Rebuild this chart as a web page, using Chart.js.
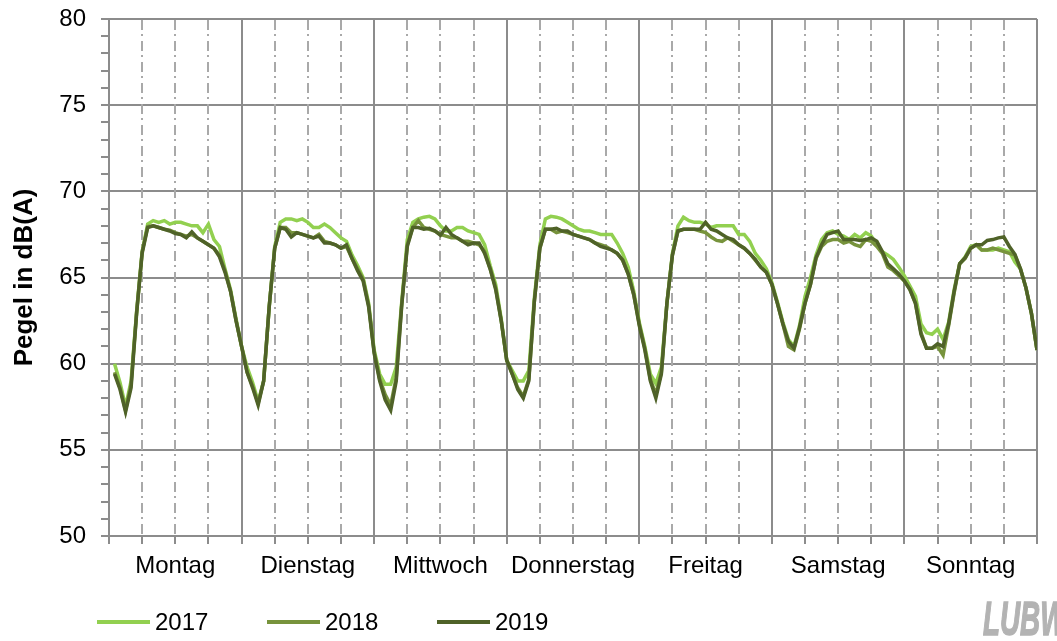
<!DOCTYPE html>
<html>
<head>
<meta charset="utf-8">
<script src="https://cdn.jsdelivr.net/npm/chart.js@4"></script>
<style>
  html, body { margin: 0; padding: 0; background: #fff; overflow: hidden; }
  #wrap { position: relative; width: 1057px; height: 641px; overflow: hidden; font-family: "Liberation Sans", Arial, sans-serif; }
  .leg { position: absolute; top: 609px; height: 26px; display: flex; align-items: center; font-size: 24px; color: #000; }
  .leg span.ln { display: inline-block; width: 53px; height: 4px; margin-right: 5px; }
  #logo { position: absolute; left: 983px; top: 591px; font-size: 48px; line-height: 55px; font-weight: bold; font-style: italic;
          color: #b3b3b3; -webkit-text-stroke: 1.5px #b3b3b3; font-family: "Liberation Sans", sans-serif;
          transform: scaleX(0.58); transform-origin: left top; }
</style>
</head>
<body>
<div id="wrap">
  <canvas id="chart" width="1057" height="641"></canvas>
  <div class="leg" style="left:97px"><span class="ln" style="background:#92d050"></span>2017</div>
  <div class="leg" style="left:267px"><span class="ln" style="background:#77933c"></span>2018</div>
  <div class="leg" style="left:437px"><span class="ln" style="background:#4f6228"></span>2019</div>
  <div id="logo">LUBW</div>
</div>
<script>
const days = ["Montag", "Dienstag", "Mittwoch", "Donnerstag", "Freitag", "Samstag", "Sonntag"];
const years = ["2017", "2018", "2019"];
const colors = ["#92d050", "#77933c", "#4f6228"];

// Stundenmittel, je Tag 24 Werte (Stunde 1..24)
const pegel2017 = [
  60.0, 58.9, 57.5, 59.0, 63.0, 66.5, 68.1, 68.3, 68.2, 68.3, 68.1, 68.2, 68.2, 68.1, 68.0, 68.0, 67.6, 68.1, 67.2, 66.8, 65.5, 64.3, 62.6, 61.0,
  59.8, 58.9, 57.8, 59.0, 63.3, 66.8, 68.2, 68.4, 68.4, 68.3, 68.4, 68.2, 67.9, 67.9, 68.1, 67.9, 67.6, 67.3, 67.1, 66.3, 65.7, 65.0, 63.5, 60.8,
  59.4, 58.8, 58.8, 59.8, 63.6, 67.2, 68.2, 68.4, 68.5, 68.55, 68.4, 68.0, 67.7, 67.7, 67.9, 67.9, 67.7, 67.6, 67.5, 66.9, 65.7, 64.6, 62.6, 60.2,
  59.6, 59.0, 59.0, 59.6, 63.8, 66.9, 68.4, 68.55, 68.5, 68.4, 68.2, 68.0, 67.8, 67.7, 67.7, 67.6, 67.5, 67.5, 67.5, 67.0, 66.4, 65.6, 64.2, 62.4,
  61.0, 59.4, 58.85, 59.8, 63.5, 66.4, 68.0, 68.5, 68.3, 68.2, 68.2, 68.1, 67.9, 68.0, 68.0, 68.0, 68.0, 67.5, 67.5, 67.1, 66.4, 66.0, 65.5, 64.7,
  63.6, 62.4, 61.4, 61.0, 62.2, 63.9, 65.0, 66.3, 67.2, 67.6, 67.7, 67.5, 67.4, 67.2, 67.5, 67.3, 67.6, 67.4, 66.9, 66.5, 66.3, 66.05, 65.6, 65.1,
  64.5, 63.9, 62.3, 61.8, 61.7, 62.0, 61.4, 62.4, 64.3, 65.8, 66.2, 66.8, 66.9, 66.6, 66.6, 66.6, 66.7, 66.6, 66.5, 65.9, 65.5, 64.4, 62.9, 60.8
];
const pegel2018 = [
  59.5, 58.6, 57.3, 58.8, 63.0, 66.5, 67.95, 68.0, 67.9, 67.8, 67.75, 67.6, 67.5, 67.4, 67.5, 67.3, 67.1, 66.9, 66.7, 66.3, 65.4, 64.2, 62.5, 61.0,
  59.5, 58.7, 57.7, 59.0, 63.3, 66.7, 67.9, 67.9, 67.6, 67.6, 67.5, 67.4, 67.3, 67.5, 67.1, 67.0, 66.9, 66.7, 66.8, 66.1, 65.5, 64.9, 63.4, 60.7,
  59.1, 58.2, 57.6, 59.2, 63.5, 66.9, 67.9, 68.3, 67.9, 67.8, 67.7, 67.5, 67.4, 67.3, 67.3, 67.1, 67.1, 67.0, 66.9, 66.5, 65.5, 64.4, 62.5, 60.2,
  59.4, 58.6, 58.1, 59.1, 63.6, 66.7, 67.8, 67.8, 67.6, 67.7, 67.6, 67.5, 67.4, 67.3, 67.2, 67.0, 66.9, 66.8, 66.6, 66.4, 66.0, 65.2, 64.0, 62.3,
  60.9, 59.1, 58.2, 59.5, 63.5, 66.3, 67.7, 67.8, 67.8, 67.8, 67.7, 67.6, 67.35, 67.15, 67.1, 67.3, 67.1, 66.9, 66.7, 66.4, 66.0, 65.6, 65.3, 64.6,
  63.5, 62.3, 61.0, 60.8, 62.0, 63.5, 64.6, 66.1, 66.8, 67.1, 67.2, 67.2, 67.0, 67.1, 66.9, 66.8, 67.2, 67.1, 66.8, 66.4, 65.6, 65.4, 65.1, 64.8,
  64.3, 63.5, 61.8, 60.9, 60.9, 61.0, 60.5, 62.2, 64.1, 65.8, 66.1, 66.7, 66.9, 66.6, 66.6, 66.7, 66.6, 66.5, 66.4, 66.3, 65.5, 64.4, 62.9, 60.8
];
const pegel2019 = [
  59.4, 58.5, 57.2, 58.6, 62.9, 66.4, 67.9, 68.0, 67.9, 67.8, 67.7, 67.55, 67.5, 67.3, 67.65, 67.3, 67.1, 66.9, 66.7, 66.2, 65.3, 64.2, 62.5, 61.0,
  59.5, 58.6, 57.6, 59.0, 63.3, 66.7, 67.9, 67.8, 67.35, 67.6, 67.5, 67.4, 67.3, 67.4, 67.0, 67.0, 66.9, 66.7, 66.9, 66.1, 65.4, 64.8, 63.3, 60.6,
  59.0, 57.9, 57.3, 59.0, 63.4, 66.8, 67.9, 67.9, 67.8, 67.85, 67.7, 67.45, 67.9, 67.5, 67.3, 67.1, 66.9, 67.0, 67.0, 66.4, 65.5, 64.3, 62.5, 60.2,
  59.4, 58.5, 58.0, 59.0, 63.6, 66.7, 67.8, 67.8, 67.85, 67.7, 67.7, 67.5, 67.4, 67.3, 67.2, 67.0, 66.8, 66.7, 66.6, 66.4, 66.0, 65.2, 64.0, 62.2,
  60.8, 59.0, 58.0, 59.4, 63.5, 66.3, 67.7, 67.8, 67.8, 67.8, 67.8, 68.2, 67.8, 67.7, 67.5, 67.3, 67.2, 66.9, 66.7, 66.4, 66.05, 65.6, 65.3, 64.6,
  63.5, 62.3, 61.3, 60.9, 62.1, 63.5, 64.6, 66.15, 66.9, 67.5, 67.6, 67.7, 67.2, 67.2, 67.2, 67.15, 67.2, 67.3, 67.1, 66.5, 65.8, 65.5, 65.2, 64.8,
  64.3, 63.5, 61.7, 60.9, 60.9, 61.15, 61.0, 62.3, 64.2, 65.8, 66.15, 66.7, 66.9, 66.9, 67.15, 67.2, 67.3, 67.35, 66.8, 66.35, 65.5, 64.4, 62.9, 60.8
];

const gridGray = "#8c8c8c";

function toPoints(values) {
  return values.map((v, i) => ({ x: i + 1, y: v }));
}

// gestrichelte 6-Stunden-Linien
const dashedGrid = {
  id: "dashedGrid",
  beforeDatasetsDraw(chart) {
    const { ctx, chartArea, scales } = chart;
    ctx.save();
    ctx.strokeStyle = "#a9a9a9";
    ctx.lineWidth = 2;
    ctx.setLineDash([10, 4, 2, 5]);
    for (let h = 6; h < 168; h += 6) {
      if (h % 24 === 0) continue;
      const x = Math.round(scales.x.getPixelForValue(h));
      ctx.beginPath();
      ctx.moveTo(x, chartArea.top + 1);
      ctx.lineTo(x, chartArea.bottom - 1);
      ctx.stroke();
    }
    ctx.restore();
  },
};

const datasets = [pegel2017, pegel2018, pegel2019].map((vals, i) => ({
  label: years[i],
  data: toPoints(vals),
  borderColor: colors[i],
  borderWidth: 3.5,
  pointRadius: 0,
  tension: 0,
  order: 3 - i,
}));

new Chart(document.getElementById("chart").getContext("2d"), {
  type: "line",
  data: { datasets: datasets },
  plugins: [dashedGrid],
  options: {
    responsive: false,
    animation: false,
    devicePixelRatio: 1,
    layout: { padding: { top: 19, right: 20, left: 0, bottom: 0 } },
    plugins: { legend: { display: false }, tooltip: { enabled: false } },
    scales: {
      x: {
        type: "linear",
        min: 0,
        max: 168,
        afterFit: (s) => { s.height = 105; },
        border: { color: gridGray, width: 2 },
        grid: {
          color: (c) => (c.tick && c.tick.value % 24 === 0 ? gridGray : "transparent"),
          lineWidth: 2,
          tickColor: gridGray,
          tickLength: 8,
          tickWidth: 2,
        },
        ticks: {
          stepSize: 6,
          autoSkip: false,
          maxRotation: 0,
          minRotation: 0,
          padding: 8,
          color: "#000",
          font: { family: "Liberation Sans", size: 24 },
          callback: (v) => (v % 24 === 12 ? days[Math.floor(v / 24)] : ""),
        },
      },
      y: {
        min: 50,
        max: 80,
        afterFit: (s) => { s.width = 109; s.paddingTop = 0; s.paddingBottom = 0; },
        border: { color: gridGray, width: 2 },
        grid: {
          color: (c) => (c.tick && c.tick.value % 5 === 0 ? gridGray : "transparent"),
          lineWidth: 2,
          tickColor: gridGray,
          tickLength: 8,
          tickWidth: 2,
        },
        ticks: {
          stepSize: 1,
          autoSkip: false,
          padding: 15,
          color: "#000",
          font: { family: "Liberation Sans", size: 24 },
          callback: (v) => (v % 5 === 0 ? v : ""),
        },
        title: {
          display: true,
          text: "Pegel in dB(A)",
          color: "#000",
          font: { family: "Liberation Sans", size: 26, weight: "bold" },
          padding: { top: 9, bottom: 0 },
        },
      },
    },
  },
});
</script>
</body>
</html>
